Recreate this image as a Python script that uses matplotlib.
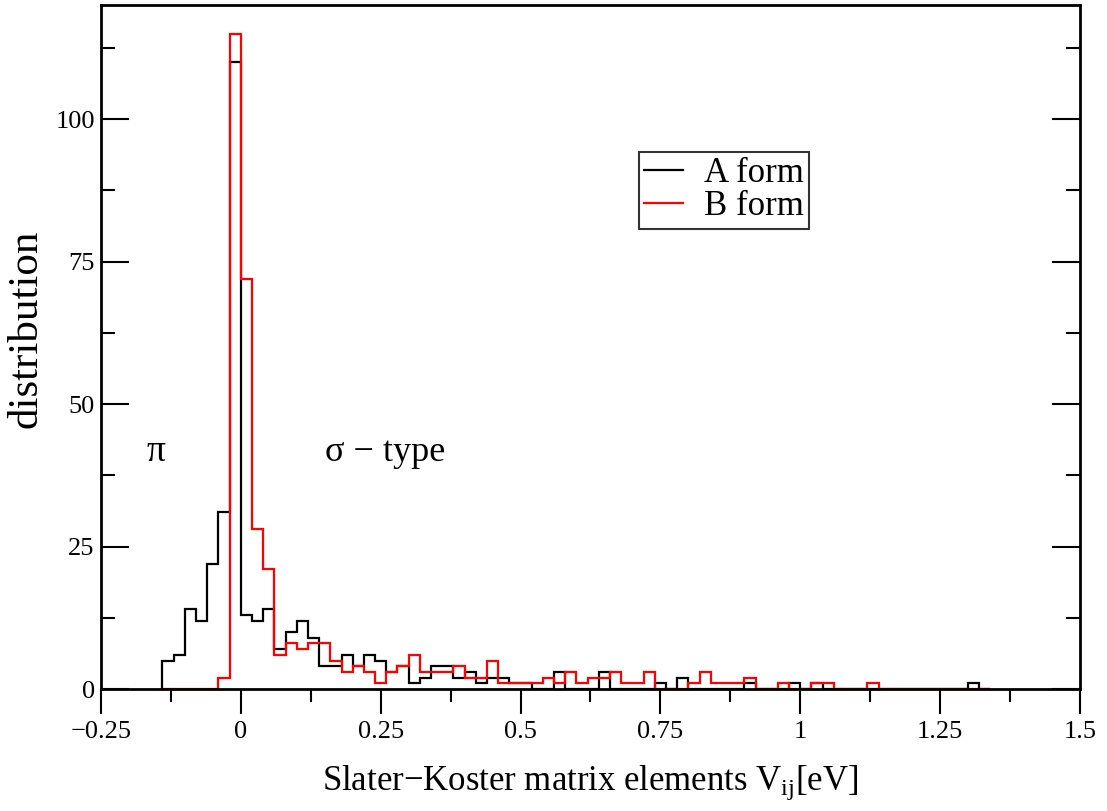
import numpy as np
import matplotlib
matplotlib.use("Agg")
from matplotlib import pyplot as plt
from matplotlib.ticker import MultipleLocator

plt.rcParams['font.family'] = ['Liberation Serif', 'DejaVu Serif']
plt.rcParams['mathtext.fontset'] = 'custom'
plt.rcParams['mathtext.rm'] = 'Liberation Serif'
plt.rcParams['mathtext.it'] = 'Liberation Serif'

# bin edges, 0.02 eV wide, from -0.14 to 1.34
edges = np.round(np.arange(-0.14, 1.3401, 0.02), 2)

# counts per bin, A form (black) and B form (red); 10 bins per row
count_a = [5, 6, 14, 12, 22, 31, 110, 13, 12, 14,     # -0.14 .. 0.04
           7, 10, 12, 9, 4, 4, 6, 4, 6, 5,            # 0.06 .. 0.24
           3, 4, 1, 2, 4, 4, 2, 3, 1, 2,              # 0.26 .. 0.44
           2, 1, 1, 0, 0, 3, 0, 0, 0, 3,              # 0.46 .. 0.64
           0, 0, 0, 0, 1, 0, 2, 0, 0, 0,              # 0.66 .. 0.84
           0, 0, 1, 0, 0, 0, 1, 0, 1, 0,              # 0.86 .. 1.04
           0, 0, 0, 0, 0, 0, 0, 0, 0, 0,              # 1.06 .. 1.24
           0, 0, 1, 0]                                # 1.26 .. 1.32
count_b = [0, 0, 0, 0, 0, 2, 115, 72, 28, 21,
           6, 8, 7, 8, 8, 5, 3, 4, 3, 1,
           3, 4, 6, 3, 3, 3, 4, 2, 2, 5,
           1, 1, 1, 1, 2, 1, 3, 1, 2, 2,
           3, 1, 1, 3, 0, 0, 0, 1, 3, 1,
           1, 1, 2, 0, 0, 1, 0, 0, 1, 1,
           0, 0, 0, 1, 0, 0, 0, 0, 0, 0,
           0, 0, 0, 0]

fig = plt.figure(figsize=(11.07, 8.11), dpi=100)
ax = fig.add_axes([0.0912, 0.1504, 0.8844, 0.8434])

ax.stairs(count_a, edges, baseline=0, color='black', lw=1.6, label='A form')
ax.stairs(count_b, edges, baseline=0, color='red', lw=1.6, label='B form')

ax.set_xlim(-0.25, 1.5)
ax.set_ylim(0, 120)

ax.xaxis.set_minor_locator(MultipleLocator(0.125))
ax.yaxis.set_minor_locator(MultipleLocator(12.5))
ax.set_xticks([-0.25, 0, 0.25, 0.5, 0.75, 1, 1.25, 1.5])
ax.set_xticklabels(['\u22120.25', '0', '0.25', '0.5', '0.75', '1', '1.25', '1.5'])
ax.set_yticks([0, 25, 50, 75, 100])
ax.set_yticklabels(['0', '25', '50', '75', '100'])

ax.tick_params(axis='x', which='both', direction='out', top=False,
               labelsize=19, pad=5, width=1.5)
ax.tick_params(axis='x', which='major', length=18)
ax.tick_params(axis='x', which='minor', length=9)
ax.tick_params(axis='y', which='both', direction='in', right=True,
               labelsize=19, pad=4.5, width=1.5)
ax.tick_params(axis='y', which='major', length=20)
ax.tick_params(axis='y', which='minor', length=10)
for s in ax.spines.values():
    s.set_linewidth(2)

ax.set_xlabel('Slater\u2212Koster matrix elements V$_{\\mathregular{ij}}$[eV]',
              fontsize=25, labelpad=15)
ax.set_ylabel('distribution', fontsize=31)
ax.yaxis.set_label_coords(-0.057, 0.526)

ax.text(-0.168, 40, '\u03c0', fontsize=27)
ax.text(0.151, 40, '\u03c3 \u2212 type', fontsize=26)

leg = ax.legend(loc='upper left', bbox_to_anchor=(0.5495, 0.785), fontsize=25,
                frameon=True, fancybox=False, edgecolor='black',
                handlelength=1.12, handletextpad=0.6, borderpad=0.15,
                labelspacing=0.0, borderaxespad=0)
leg.get_frame().set_linewidth(1.5)

fig.savefig('out.png', dpi=100)
